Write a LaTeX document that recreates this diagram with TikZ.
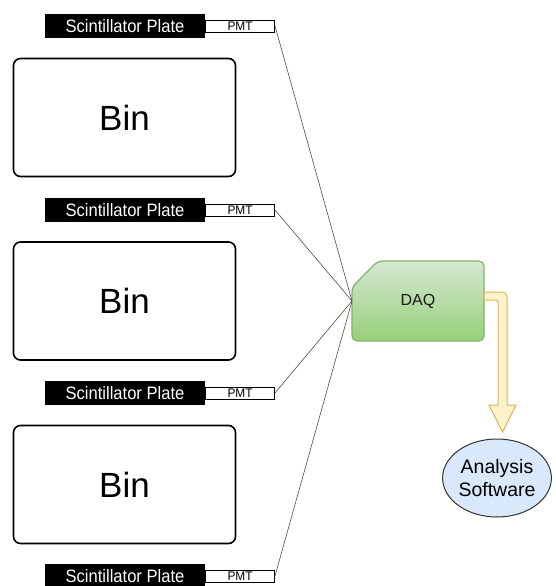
\documentclass[tikz,border=0pt]{standalone}
\usepackage{fontspec}
\setmainfont{Liberation Sans}
\usetikzlibrary{shapes.geometric}
\definecolor{daqtop}{HTML}{D5E8D4}
\definecolor{daqbot}{HTML}{97D077}
\definecolor{daqline}{HTML}{82B366}
\definecolor{arrfill}{HTML}{FFF2CC}
\definecolor{arrline}{HTML}{D6B656}
\definecolor{swfill}{HTML}{DAE8FC}
\tikzset{
  plate/.style={fill=black, text=white, minimum width=160pt, minimum height=24pt, inner sep=0pt, font=\fontsize{18}{18}\selectfont},
  pmt/.style={draw=black, fill=white, line width=0.8pt, minimum width=69pt, minimum height=12pt, inner sep=0pt, font=\fontsize{12.5}{12.5}\selectfont},
  binbox/.style={draw=black, line width=1.6pt, rounded corners=7pt, minimum width=222pt, minimum height=118pt, inner sep=0pt, font=\fontsize{35}{35}\selectfont},
  wire/.style={draw=black!70, line width=0.6pt},
}
\begin{document}
\begin{tikzpicture}[x=1pt,y=-1pt]
\useasboundingbox (0,0) rectangle (555,586);
% plates
\foreach \i/\y in {1/26,2/210,3/393,4/576}{
  \node[plate] (plate\i) at (125,\y) {\scalebox{0.92}[1]{Scintillator Plate}};
  \node[pmt, anchor=west] (pmt\i) at (plate\i.east) {\scalebox{0.95}[1]{PMT}};
}
% bins
\node[binbox] (bin1) at (124.5,117.5) {Bin};
\node[binbox] (bin2) at (124.5,301) {Bin};
\node[binbox] (bin3) at (124.5,484.5) {Bin};
% DAQ
\shade[top color=daqtop, bottom color=daqbot, draw=daqline, line width=1.2pt, rounded corners=5pt]
  (352,341) -- (352,287) -- (378,261) -- (484,261) -- (484,341) -- cycle;
\node[font=\fontsize{16}{16}\selectfont, text=black!90] (daq) at (418,301) {DAQ};
\coordinate (daqin) at (352,301);
\coordinate (daqout) at (484,296);
\foreach \i in {1,2,3,4}{
  \draw[wire] (pmt\i.east) -- (daqin);
}
% software
\node[ellipse, draw=black!80, fill=swfill, line width=1pt, minimum width=106pt, minimum height=78pt, inner sep=0pt, align=center, font=\fontsize{19.5}{23}\selectfont] (sw) at (497,478) {Analysis\\Software};
% yellow arrow
\draw[fill=arrfill, draw=arrline, line width=1pt]
  (484,292) [rounded corners=5pt] -- (507,292) [sharp corners] -- (507,405) -- (516,405) -- (502.5,432) -- (489,405) -- (498,405) [rounded corners=2pt] -- (498,300) [sharp corners] -- (484,300) -- cycle;
\end{tikzpicture}
\end{document}
